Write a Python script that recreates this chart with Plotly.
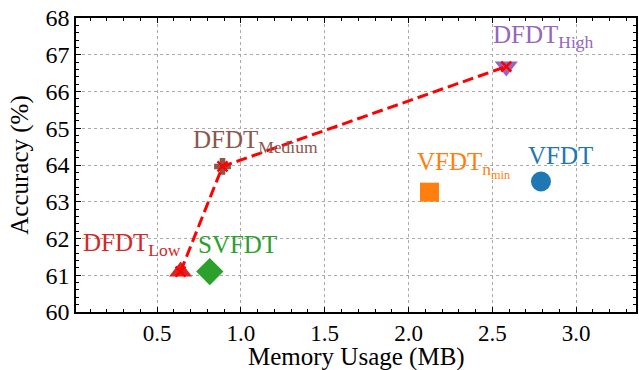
import plotly.graph_objects as go

# Data
methods = ["VFDT", "VFDT_nmin", "SVFDT", "DFDT_Low", "DFDT_Medium", "DFDT_High"]
memory_mb = [2.79, 2.125, 0.814, 0.64, 0.89, 2.583]
accuracy = [63.55, 63.26, 61.1, 61.1, 63.96, 66.68]
label_texts = ["VFDT", "VFDT<sub>n<sub>min</sub></sub>", "SVFDT",
               "DFDT<sub>Low</sub>", "DFDT<sub>Medium</sub>", "DFDT<sub>High</sub>"]
colors = ["#1f77b4", "#ff7f0e", "#2ca02c", "#d62728", "#8c564b", "#9467bd"]
symbols = ["circle", "square", "diamond", "triangle-up", "cross", "triangle-down"]
sizes = [20, 19, 21, 20, 14, 20]
x_title = "Memory Usage (MB)"
y_title = "Accuracy (%)"

# label placement (left edge, bottom) in data coordinates
label_x = [2.70, 2.04, 0.733, 0.048, 0.70, 2.49]
label_y = [64.0, 63.66, 61.59, 61.52, 64.34, 67.19]

dfdt_idx = [3, 4, 5]

font_family = "Liberation Serif"

fig = go.Figure()
for i, m in enumerate(methods):
    fig.add_trace(go.Scatter(
        x=[memory_mb[i]], y=[accuracy[i]], mode="markers",
        marker=dict(symbol=symbols[i], size=sizes[i], color=colors[i], line=dict(width=0)),
        showlegend=False, name=m))

fig.add_trace(go.Scatter(
    x=[memory_mb[i] for i in dfdt_idx], y=[accuracy[i] for i in dfdt_idx],
    mode="lines+markers",
    line=dict(color="#ff0000", width=3, dash="11px,5px"),
    marker=dict(symbol="x-thin", size=10, line=dict(color="#ff0000", width=2.5), color="#ff0000"),
    showlegend=False))

for i in range(len(methods)):
    fig.add_annotation(x=label_x[i], y=label_y[i], text=label_texts[i], showarrow=False,
                       xanchor="left", yanchor="bottom", yshift=-6,
                       font=dict(family=font_family, size=25, color=colors[i]))

# x-axis title as a paper annotation for precise placement
fig.add_annotation(x=0.5, y=0, xref="paper", yref="paper", text=x_title, showarrow=False,
                   xanchor="center", yanchor="middle", yshift=-45,
                   font=dict(family=font_family, size=25, color="black"))

axis_common = dict(
    showline=True, linecolor="black", linewidth=1.5, mirror="allticks",
    ticks="inside", ticklen=5, tickwidth=1, tickcolor="black",
    showgrid=True, gridcolor="#aaaaaa", griddash="dot", gridwidth=1,
    zeroline=False, automargin=False,
)

fig.update_xaxes(range=[0.016, 3.357], tickvals=[0.5, 1.0, 1.5, 2.0, 2.5, 3.0],
                 ticktext=["0.5", "1.0", "1.5", "2.0", "2.5", "3.0"],
                 minor=dict(dtick=0.1, tick0=0, ticks="inside", ticklen=3, tickcolor="black", showgrid=False),
                 **axis_common)
fig.update_yaxes(range=[60, 68], dtick=1,
                 minor=dict(dtick=0.2, tick0=60, ticks="inside", ticklen=3, tickcolor="black", showgrid=False),
                 title=dict(text=y_title, font=dict(family=font_family, size=25, color="black"),
                            standoff=10),
                 **axis_common)
fig.update_xaxes(tickfont_family=font_family, tickfont_size=23, tickfont_color="black")
fig.update_yaxes(tickfont_family=font_family, tickfont_size=24, tickfont_color="black")

fig.update_layout(width=639, height=370, margin=dict(l=76, r=3, t=18, b=58, autoexpand=False),
                  font=dict(family=font_family, color="black", size=24),
                  plot_bgcolor="white", paper_bgcolor="white")

fig.write_html("out.html", config={"displayModeBar": False},
               post_script="document.body.style.margin='0';document.body.style.overflow='hidden';")
